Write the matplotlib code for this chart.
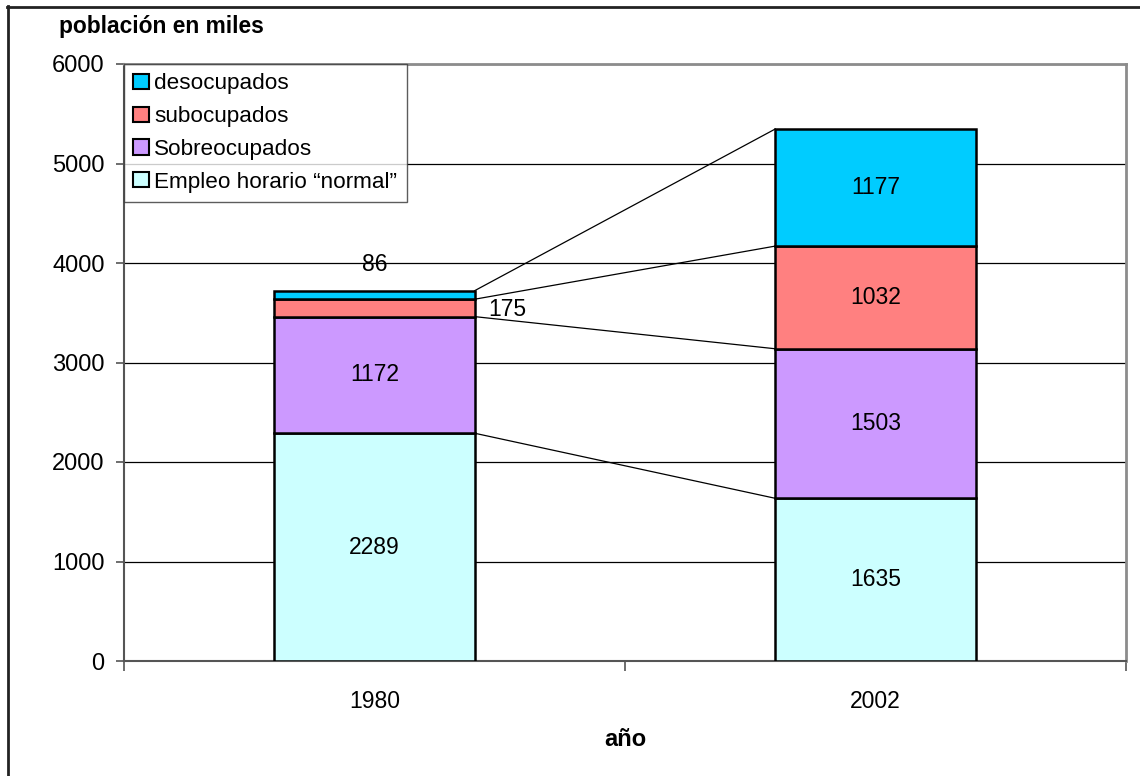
import matplotlib
matplotlib.use("Agg")
import matplotlib.pyplot as plt
from matplotlib.patches import Patch
from matplotlib.lines import Line2D
import numpy as np

plt.rcParams['font.family'] = ['Liberation Sans', 'DejaVu Sans']

years = ["1980", "2002"]
series_names = ["Empleo horario \u201cnormal\u201d", "Sobreocupados", "subocupados", "desocupados"]
normal = [2289, 1635]
sobreocupados = [1172, 1503]
subocupados = [175, 1032]
desocupados = [86, 1177]
colors = ["#CCFFFF", "#CC99FF", "#FF8080", "#00CCFF"]
yticks = [0, 1000, 2000, 3000, 4000, 5000, 6000]

series = [normal, sobreocupados, subocupados, desocupados]

fig = plt.figure(figsize=(11.4, 7.76), dpi=100)
ax = fig.add_axes([124/1140, 1 - 661/776, (1126-124)/1140, (661-64)/776])

x = np.arange(len(years))
width = 0.4
bottoms = np.zeros(len(years))
tops = []
for vals, col in zip(series, colors):
    vals = np.array(vals, dtype=float)
    ax.bar(x, vals, width, bottom=bottoms, color=col, edgecolor="black",
           linewidth=1.8, zorder=3)
    bottoms = bottoms + vals
    tops.append(bottoms.copy())

# series lines joining the segment tops of the two stacks
for t in tops:
    ax.plot([x[0] + width/2, x[1] - width/2], [t[0], t[1]], color="black",
            linewidth=0.9, zorder=2)

# value labels
lab_fs = 16.5
cum = np.zeros(len(years))
for si, vals in enumerate(series):
    for i, v in enumerate(vals):
        if i == 0 and si == 3:
            ax.text(x[i], cum[i] + v + 260, f"{v}", ha="center", va="center",
                    fontsize=lab_fs, zorder=4)
        elif i == 0 and si == 2:
            ax.text(x[i] + 0.227, cum[i] + v/2 - 20, f"{v}", ha="left",
                    va="center", fontsize=lab_fs, zorder=4)
        else:
            ax.text(x[i], cum[i] + v/2, f"{v}", ha="center", va="center",
                    fontsize=lab_fs, zorder=4)
    cum = cum + np.array(vals)

ax.set_xlim(-0.5, 1.5)
ax.set_ylim(0, 6000)
ax.set_yticks(yticks)
ax.set_yticklabels([str(v) for v in yticks], fontsize=17)
ax.set_xticks(x)
ax.set_xticklabels(years, fontsize=16.5)
ax.set_xticks([-0.5, 0.5, 1.5], minor=True)
ax.tick_params(axis="x", which="major", length=0, pad=21)
ax.tick_params(axis="x", which="minor", length=7, width=1.2, color="#555555", direction="out")
ax.tick_params(axis="y", length=6, width=1.2, color="#555555", direction="out", pad=8)

ax.grid(axis="y", color="black", linewidth=0.9, zorder=0)
ax.set_axisbelow(True)

for side in ["top", "right"]:
    ax.spines[side].set_color("#8C8C8C")
    ax.spines[side].set_linewidth(2.0)
for side in ["left", "bottom"]:
    ax.spines[side].set_color("#555555")
    ax.spines[side].set_linewidth(1.5)

handles = [Patch(facecolor=c, edgecolor="black", linewidth=1.5)
           for c in colors[::-1]]
leg = ax.legend(handles, series_names[::-1], loc="upper left",
                bbox_to_anchor=(0, 1), borderaxespad=0, fontsize=16.2,
                frameon=True, fancybox=False, edgecolor="#333333",
                handlelength=0.68, handleheight=0.68, handletextpad=0.25,
                labelspacing=0.52, borderpad=0.42)
leg.get_frame().set_linewidth(1.0)
leg.set_zorder(5)

fig.text(59/1140, 1 - 27/776, "población en miles", fontsize=16.4,
         fontweight="bold", ha="left", va="center")
fig.text(625/1140, 1 - 739/776, "año", fontsize=17, fontweight="bold",
         ha="center", va="center")

# outer chart frame (left and top edges)
fig.add_artist(Line2D([7.5/1140, 7.5/1140], [0, 1 - 6/776],
                      transform=fig.transFigure, color="#222222", linewidth=2))
fig.add_artist(Line2D([7/1140, 1], [1 - 6.5/776, 1 - 6.5/776],
                      transform=fig.transFigure, color="#222222", linewidth=2))

fig.savefig("out.png", dpi=100, facecolor="white")
